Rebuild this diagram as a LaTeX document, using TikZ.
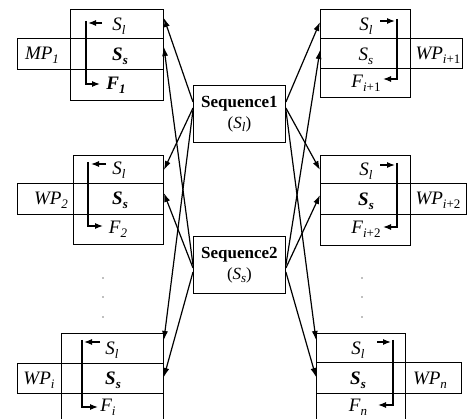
\documentclass[tikz,border=0pt]{standalone}
\usepackage{fontspec}
\setmainfont{Liberation Serif}
\usetikzlibrary{arrows.meta,calc}
\newcommand{\vv}[2]{#1\raisebox{-0.45ex}{\fontsize{13}{13}\selectfont #2}}
\begin{document}
\begin{tikzpicture}[x=1pt,y=-1pt,
  box/.style={draw, line width=0.9pt, inner sep=0pt, anchor=north west},
  lbl/.style={font=\fontsize{19}{20}\selectfont\itshape, inner sep=0pt},
  blbl/.style={font=\fontsize{19}{20}\selectfont\itshape\bfseries, inner sep=0pt},
  seq/.style={draw, line width=0.9pt, anchor=north west, inner sep=0pt, align=center,
              font=\fontsize{17}{22}\selectfont\bfseries},
  link/.style={line width=1.2pt, -{Latex[length=9pt,width=6pt]}},
  brk/.style={line width=1.2pt, -{Latex[length=8pt,width=6pt]}},
  dot/.style={fill=gray}
]
\useasboundingbox (0,0) rectangle (467,419);
\clip (0,0) rectangle (467,419);

% ---------- left blocks ----------
\node[box, minimum width=93pt, minimum height=91pt] (tlT) at (70,9) {};
\node[box, minimum width=146pt, minimum height=31pt] (tlB) at (17,38) {};
\node[box, minimum width=90pt, minimum height=89pt] (mlT) at (73,155) {};
\node[box, minimum width=146pt, minimum height=31pt] (mlB) at (17,183) {};
\node[box, minimum width=102pt, minimum height=95pt] (blT) at (61,333) {};
\node[box, minimum width=146pt, minimum height=30pt] (blB) at (17,363) {};

\node[lbl] (tlw) at (42,55) {\vv{MP}{1}};
\node[lbl] (tl1) at (119,26) {\vv{S}{l}};
\node[blbl] (tl2) at (120,56) {\vv{S}{s}};
\node[blbl] (tl3) at (116,85) {\vv{F}{1}};

\node[lbl] (mlw) at (51,200) {\vv{WP}{2}};
\node[lbl] (ml1) at (119,170) {\vv{S}{l}};
\node[blbl] (ml2) at (120,200) {\vv{S}{s}};
\node[lbl] (ml3) at (118,229) {\vv{F}{2}};

\node[lbl] (blw) at (39,380) {\vv{WP}{i}};
\node[lbl] (bl1) at (112,350) {\vv{S}{l}};
\node[blbl] (bl2) at (113,380) {\vv{S}{s}};
\node[lbl] (bl3) at (108,407) {\vv{F}{i}};

% ---------- right blocks ----------
\node[box, minimum width=90pt, minimum height=88pt] (trT) at (320,9) {};
\node[box, minimum width=142pt, minimum height=30pt] (trB) at (320,38) {};
\node[box, minimum width=90pt, minimum height=90pt] (mrT) at (320,155) {};
\node[box, minimum width=146pt, minimum height=31pt] (mrB) at (320,183) {};
\node[box, minimum width=89pt, minimum height=95pt] (brT) at (316,333) {};
\node[box, minimum width=145pt, minimum height=31pt] (brB) at (316,362) {};

\node[lbl] (trw) at (438,55) {\vv{WP}{\textit{i}\upshape+1}};
\node[lbl] (tr1) at (366,26) {\vv{S}{l}};
\node[lbl] (tr2) at (366,56) {\vv{S}{s}};
\node[lbl] (tr3) at (366,83) {\vv{F}{\textit{i}\upshape+1}};

\node[lbl] (mrw) at (438,200) {\vv{WP}{\textit{i}\upshape+2}};
\node[lbl] (mr1) at (366,171) {\vv{S}{l}};
\node[blbl] (mr2) at (366,201) {\vv{S}{s}};
\node[lbl] (mr3) at (366,229) {\vv{F}{\textit{i}\upshape+2}};

\node[lbl] (brw) at (430,380) {\vv{WP}{n}};
\node[lbl] (br1) at (358,350) {\vv{S}{l}};
\node[blbl] (br2) at (358,380) {\vv{S}{s}};
\node[lbl] (br3) at (358,407) {\vv{F}{n}};

% ---------- brackets ----------
\draw[brk] (102,23) -- (88,23);
\draw[brk] (86,21) -- (86,84) -- (100,84);
\draw[brk] (106,164) -- (91,164);
\draw[brk] (88,162) -- (88,226) -- (103,226);
\draw[brk] (100,342) -- (84,342);
\draw[brk] (82,340) -- (82,407) -- (98,407);

\draw[brk] (380,21) -- (395,21);
\draw[brk] (397,19) -- (397,79) -- (383,79);
\draw[brk] (380,165) -- (395,165);
\draw[brk] (397,163) -- (397,227) -- (383,227);
\draw[brk] (377,342) -- (391,342);
\draw[brk] (393,340) -- (393,405) -- (378,405);

% ---------- dots ----------
\foreach \yy in {278,297,317} {
  \fill[dot] (103,\yy) circle (0.9);
  \fill[dot] (362,\yy) circle (0.9);
}

% ---------- sequence boxes ----------
\node[seq, minimum width=92pt, minimum height=57pt] (seq1) at (193,85)
  {Sequence1\\[-1pt]{\mdseries(\vv{\textit{S}}{\textit{l}})}};
\node[seq, minimum width=92pt, minimum height=57pt] (seq2) at (193,236)
  {Sequence2\\[-1pt]{\mdseries(\vv{\textit{S}}{\textit{s}})}};

% ---------- links ----------
\draw[link] ([yshift=-17pt]seq1.north west) -- ([yshift=-9pt]tlT.north east);
\draw[link] ([yshift=-23pt]seq1.north west) -- ([yshift=-15pt]mlT.north east);
\draw[link] ([yshift=-25pt]seq1.north west) -- ([yshift=-7pt]blT.north east);
\draw[link] ([yshift=-29pt]seq2.north west) -- ([yshift=-9pt]tlB.north east);
\draw[link] ([yshift=-32pt]seq2.north west) -- ([yshift=-10pt]mlB.north east);
\draw[link] ([yshift=-36pt]seq2.north west) -- ([yshift=-14pt]blB.north east);

\draw[link] ([yshift=-17pt]seq1.north east) -- ([yshift=-13pt]trT.north west);
\draw[link] ([yshift=-23pt]seq1.north east) -- ([yshift=-15pt]mrT.north west);
\draw[link] ([yshift=-25pt]seq1.north east) -- ([yshift=-7pt]brT.north west);
\draw[link] ([yshift=-29pt]seq2.north east) -- ([yshift=-12pt]trB.north west);
\draw[link] ([yshift=-32pt]seq2.north east) -- ([yshift=-12pt]mrB.north west);
\draw[link] ([yshift=-36pt]seq2.north east) -- ([yshift=-15pt]brB.north west);
\end{tikzpicture}
\end{document}
